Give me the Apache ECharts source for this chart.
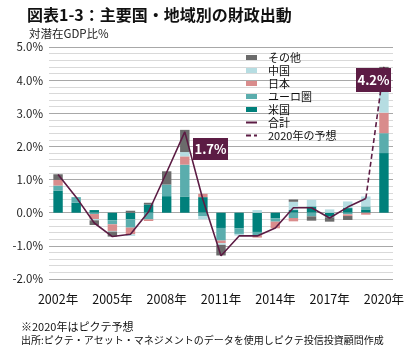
<!DOCTYPE html>
<html>
<head>
<meta charset="utf-8">
<script src="https://cdn.jsdelivr.net/npm/echarts@6/dist/echarts.min.js"></script>
<style>
html, body { margin: 0; padding: 0; background: #fff; }
#chart { width: 416px; height: 354px; }
</style>
</head>
<body>
<div id="chart"></div>
<script>
// data (% of potential GDP)
var years = ['2002年', '2003年', '2004年', '2005年', '2006年', '2007年', '2008年', '2009年', '2010年', '2011年',
             '2012年', '2013年', '2014年', '2015年', '2016年', '2017年', '2018年', '2019年', '2020年'];
var usData    = [0.66, 0.30, 0.08, -0.23, -0.20, 0.25, 0.50, 0.49, 0.47, -0.46, -0.47, -0.58, -0.17, 0.08, 0.19, -0.10, 0.14, 0.10, 1.80];
var euroData  = [0.16, 0.17, -0.04, -0.12, -0.25, -0.20, 0.35, 0.96, -0.10, -0.38, -0.17, -0.10, -0.10, -0.16, -0.11, -0.04, -0.05, 0.09, 0.60];
var japanData = [0.17, 0, -0.15, -0.20, -0.20, -0.05, 0, 0.25, 0.10, -0.08, 0, -0.07, -0.20, -0.10, 0, 0, -0.05, -0.06, 0.62];
var chinaData = [0, 0, -0.04, -0.02, -0.05, 0, 0, 0.13, -0.10, -0.05, -0.05, 0.08, 0, 0.25, 0.20, 0.10, 0.20, 0.30, 0.63];
var otherData = [0.17, 0, -0.14, -0.15, 0.06, 0.05, 0.40, 0.67, 0, -0.32, 0, 0, 0, 0.07, -0.13, -0.13, -0.12, 0, 0.75];
var totalData = [1.15, 0.47, -0.31, -0.72, -0.65, 0.03, 1.22, 2.44, 0.40, -1.30, -0.70, -0.70, -0.46, 0.15, 0.15, -0.16, 0.17, 0.43, 4.40];

var fontJP = '"Noto Sans CJK JP", "Noto Sans", sans-serif';
var maroon = '#5c1c44';

// solid line up to 2019, dashed forecast 2019 -> 2020
var last = years.length - 1;
var solidLine = totalData.map(function (v, i) { return i < last ? v : '-'; });
var dashLine = totalData.map(function (v, i) { return i >= last - 1 ? v : '-'; });
solidLine[7] = {
    value: totalData[7],
    label: {
        show: true,
        position: 'right',
        distance: 3,
        formatter: function (p) { return p.value.toFixed(1); },
        color: '#fff',
        fontSize: 6,
        backgroundColor: maroon,
        padding: [1, 1]
    }
};

function barSeries(name, data, color) {
    return {
        name: name,
        type: 'bar',
        stack: 'total',
        barWidth: '52%',
        itemStyle: { color: color },
        data: data
    };
}

// callout box with white bold text
function callout(x, y, w, h, text) {
    return [
        { type: 'rect', z: 100, shape: { x: x, y: y, width: w, height: h }, style: { fill: maroon } },
        { type: 'text', z: 101, x: x + w / 2, y: y + h / 2,
          style: { text: text, fill: '#fff', font: 'bold 13px ' + fontJP, align: 'center', verticalAlign: 'middle' } }
    ];
}

var chart = echarts.init(document.getElementById('chart'));

var option = {
    backgroundColor: '#fff',
    animation: false,
    textStyle: { fontFamily: fontJP },
    title: [
        {
            text: '図表1-3：主要国・地域別の財政出動',
            left: 22, top: 2,
            textStyle: { fontSize: 16, fontWeight: 'bold', color: '#111', fontFamily: fontJP }
        },
        {
            text: '対潜在GDP比%',
            left: 24, top: 23,
            textStyle: { fontSize: 11.5, fontWeight: 'normal', color: '#222', fontFamily: fontJP }
        },
        {
            text: '※2020年はピクテ予想',
            left: 16, top: 316,
            textStyle: { fontSize: 11, fontWeight: 'normal', color: '#111', fontFamily: fontJP }
        },
        {
            text: '出所:ピクテ・アセット・マネジメントのデータを使用しピクテ投信投資顧問作成',
            left: 16, top: 330,
            textStyle: { fontSize: 10, fontWeight: 'normal', color: '#111', fontFamily: fontJP }
        }
    ],
    legend: {
        orient: 'vertical',
        left: 240, top: 47,
        itemWidth: 11,
        itemHeight: 5,
        itemGap: 2,
        textStyle: { fontSize: 11, color: '#111', fontFamily: fontJP, lineHeight: 11, padding: [0, 0, 0, 6] },
        data: [
            { name: 'その他', icon: 'rect' },
            { name: '中国', icon: 'rect' },
            { name: '日本', icon: 'rect' },
            { name: 'ユーロ圏', icon: 'rect' },
            { name: '米国', icon: 'rect' },
            { name: '合計', itemStyle: { opacity: 0 } },
            { name: '2020年の予想', itemStyle: { opacity: 0 } }
        ]
    },
    grid: { left: 49, right: 23, top: 47, bottom: 75 },
    xAxis: {
        type: 'category',
        data: years,
        axisLine: { show: false },
        axisTick: { show: false },
        axisLabel: { interval: 2, margin: 14, fontSize: 12.5, color: '#111', fontFamily: fontJP }
    },
    yAxis: {
        type: 'value',
        min: -2, max: 5, interval: 1,
        axisLine: { show: false },
        axisTick: { show: false },
        axisLabel: {
            margin: 6, fontSize: 11.5, color: '#222', fontFamily: fontJP,
            formatter: function (v) { return v.toFixed(1) + '%'; }
        },
        splitLine: { lineStyle: { color: '#a8a8a8', width: 1 } },
        minorTick: { show: false, splitNumber: 5 },
        minorSplitLine: { show: true, lineStyle: { color: '#d9d9d9', width: 1 } }
    },
    series: [
        barSeries('米国', usData, '#00807b'),
        barSeries('ユーロ圏', euroData, '#5aadad'),
        barSeries('日本', japanData, '#d98c8c'),
        barSeries('中国', chinaData, '#b6dde2'),
        barSeries('その他', otherData, '#6b6b6b'),
        {
            name: '合計',
            type: 'line',
            symbol: 'none',
            z: 5,
            lineStyle: { color: maroon, width: 1.6 },
            itemStyle: { color: maroon },
            data: solidLine
        },
        {
            name: '2020年の予想',
            type: 'line',
            symbol: 'none',
            z: 5,
            lineStyle: { color: maroon, width: 1.6, type: [5, 3] },
            itemStyle: { color: maroon },
            data: dashLine
        }
    ],
    graphic: callout(193, 138, 35, 22, '1.7%').concat(callout(356, 68, 35, 24, '4.2%'))
};

chart.setOption(option);
</script>
</body>
</html>
